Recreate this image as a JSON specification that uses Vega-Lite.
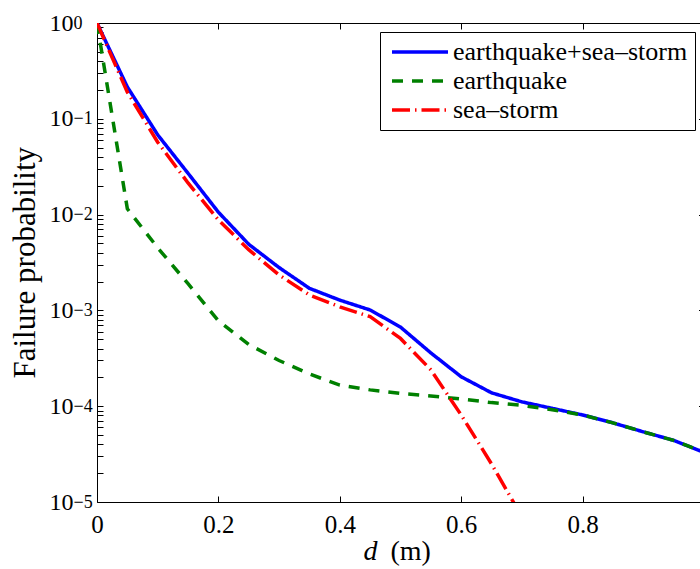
{
  "$schema": "https://vega.github.io/schema/vega-lite/v6.json",
  "width": 603,
  "height": 479,
  "autosize": {"type": "none"},
  "padding": {"left": 97, "top": 23, "right": 0, "bottom": 67},
  "background": "white",
  "config": {
    "view": {"stroke": null},
    "font": "Liberation Serif",
    "axis": {"grid": false, "domainColor": "black", "tickColor": "black", "labelColor": "black", "titleColor": "black", "labelFont": "Liberation Serif", "titleFont": "Liberation Serif", "titleFontWeight": "normal", "labelFlush": false, "labelOverlap": false},
    "legend": {"labelFont": "Liberation Serif"},
    "text": {"font": "Liberation Serif"}
  },
  "data": {
    "values": [
      {"d": 0, "p": 1, "s": "earthquake+sea–storm"},
      {"d": 0.05, "p": 0.215, "s": "earthquake+sea–storm"},
      {"d": 0.1, "p": 0.068, "s": "earthquake+sea–storm"},
      {"d": 0.15, "p": 0.027, "s": "earthquake+sea–storm"},
      {"d": 0.2, "p": 0.0106, "s": "earthquake+sea–storm"},
      {"d": 0.25, "p": 0.0049, "s": "earthquake+sea–storm"},
      {"d": 0.3, "p": 0.0028, "s": "earthquake+sea–storm"},
      {"d": 0.35, "p": 0.0017, "s": "earthquake+sea–storm"},
      {"d": 0.4, "p": 0.00128, "s": "earthquake+sea–storm"},
      {"d": 0.45, "p": 0.00101, "s": "earthquake+sea–storm"},
      {"d": 0.5, "p": 0.00067, "s": "earthquake+sea–storm"},
      {"d": 0.55, "p": 0.00036, "s": "earthquake+sea–storm"},
      {"d": 0.6, "p": 0.000203, "s": "earthquake+sea–storm"},
      {"d": 0.65, "p": 0.000138, "s": "earthquake+sea–storm"},
      {"d": 0.7, "p": 0.000111, "s": "earthquake+sea–storm"},
      {"d": 0.75, "p": 0.000095, "s": "earthquake+sea–storm"},
      {"d": 0.8, "p": 0.000081, "s": "earthquake+sea–storm"},
      {"d": 0.85, "p": 0.000067, "s": "earthquake+sea–storm"},
      {"d": 0.9, "p": 0.000054, "s": "earthquake+sea–storm"},
      {"d": 0.95, "p": 0.000044, "s": "earthquake+sea–storm"},
      {"d": 1.0, "p": 0.000033, "s": "earthquake+sea–storm"},
      {"d": 0, "p": 1, "s": "earthquake"},
      {"d": 0.05, "p": 0.0115, "s": "earthquake"},
      {"d": 0.1, "p": 0.0045, "s": "earthquake"},
      {"d": 0.15, "p": 0.0019, "s": "earthquake"},
      {"d": 0.2, "p": 0.00078, "s": "earthquake"},
      {"d": 0.25, "p": 0.00044, "s": "earthquake"},
      {"d": 0.3, "p": 0.0003, "s": "earthquake"},
      {"d": 0.35, "p": 0.000217, "s": "earthquake"},
      {"d": 0.4, "p": 0.000166, "s": "earthquake"},
      {"d": 0.45, "p": 0.000148, "s": "earthquake"},
      {"d": 0.5, "p": 0.000136, "s": "earthquake"},
      {"d": 0.55, "p": 0.000128, "s": "earthquake"},
      {"d": 0.6, "p": 0.000119, "s": "earthquake"},
      {"d": 0.65, "p": 0.000109, "s": "earthquake"},
      {"d": 0.7, "p": 0.000102, "s": "earthquake"},
      {"d": 0.75, "p": 0.000092, "s": "earthquake"},
      {"d": 0.8, "p": 0.000081, "s": "earthquake"},
      {"d": 0.85, "p": 0.000067, "s": "earthquake"},
      {"d": 0.9, "p": 0.000054, "s": "earthquake"},
      {"d": 0.95, "p": 0.000044, "s": "earthquake"},
      {"d": 1.0, "p": 0.000033, "s": "earthquake"},
      {"d": 0, "p": 1, "s": "sea–storm"},
      {"d": 0.05, "p": 0.19, "s": "sea–storm"},
      {"d": 0.1, "p": 0.057, "s": "sea–storm"},
      {"d": 0.15, "p": 0.0214, "s": "sea–storm"},
      {"d": 0.2, "p": 0.0088, "s": "sea–storm"},
      {"d": 0.25, "p": 0.0043, "s": "sea–storm"},
      {"d": 0.3, "p": 0.00234, "s": "sea–storm"},
      {"d": 0.35, "p": 0.00145, "s": "sea–storm"},
      {"d": 0.4, "p": 0.00109, "s": "sea–storm"},
      {"d": 0.45, "p": 0.00086, "s": "sea–storm"},
      {"d": 0.5, "p": 0.00051, "s": "sea–storm"},
      {"d": 0.55, "p": 0.00024, "s": "sea–storm"},
      {"d": 0.6, "p": 0.000081, "s": "sea–storm"},
      {"d": 0.65, "p": 0.000025, "s": "sea–storm"},
      {"d": 0.7, "p": 0.000007, "s": "sea–storm"}
    ]
  },
  "layer": [
    {
      "mark": {"type": "line", "clip": true, "strokeWidth": 3.5},
      "encoding": {
        "x": {
          "field": "d", "type": "quantitative",
          "scale": {"domain": [0, 0.9935], "nice": false, "zero": false},
          "axis": {
            "orient": "bottom", "values": [0, 0.2, 0.4, 0.6, 0.8],
            "labelExpr": "datum.value == 0 ? '0' : format(datum.value, '.1f')",
            "labelFont": "Liberation Serif", "labelFontSize": 25, "labelPadding": 10, "ticks": false,
            "title": "d", "titleFont": "Liberation Serif", "titleFontStyle": "italic", "titleFontSize": 28,
            "titleX": 266, "titleY": 57, "titleAlign": "left", "titleBaseline": "alphabetic"
          }
        },
        "y": {
          "field": "p", "type": "quantitative",
          "scale": {"type": "log", "domain": [0.00001, 1], "nice": false},
          "axis": {
            "orient": "left",
            "values": [0.00001, 0.0001, 0.001, 0.01, 0.1, 1],
            "labelExpr": "'10'",
            "labelFont": "Liberation Serif", "labelFontSize": 24, "labelPadding": 24, "labelDy": 5, "ticks": false,
            "title": "Failure probability", "titleFont": "Liberation Serif", "titleFontSize": 31, "titleAngle": -90,
            "titleX": -63, "titleY": 355, "titleAlign": "left", "titleBaseline": "alphabetic"
          }
        },
        "color": {
          "field": "s", "type": "nominal",
          "scale": {"domain": ["earthquake+sea–storm", "earthquake", "sea–storm"], "range": ["#0000ff", "#008000", "#ff0000"]},
          "legend": {
            "title": null, "orient": "none", "legendX": 283, "legendY": 9,
            "padding": 7, "rowPadding": 3, "fillColor": "white", "strokeColor": "black", "cornerRadius": 0,
            "labelFont": "Liberation Serif", "labelFontSize": 26, "labelLimit": 500, "labelColor": "black",
            "symbolType": "M-28,0H28", "symbolSize": 4, "symbolStrokeWidth": 3.5, "symbolOffset": 20, "labelOffset": 20
          }
        },
        "strokeDash": {
          "field": "s", "type": "nominal",
          "scale": {"domain": ["earthquake+sea–storm", "earthquake", "sea–storm"], "range": [[1, 0], [11, 9], [18, 5, 1.5, 5]]},
          "legend": {
            "title": null, "orient": "none", "legendX": 283, "legendY": 9,
            "padding": 7, "rowPadding": 3, "fillColor": "white", "strokeColor": "black", "cornerRadius": 0,
            "labelFont": "Liberation Serif", "labelFontSize": 26, "labelLimit": 500, "labelColor": "black",
            "symbolType": "M-28,0H28", "symbolSize": 4, "symbolStrokeWidth": 3.5, "symbolOffset": 20, "labelOffset": 20
          }
        }
      }
    },
    {
      "mark": {"type": "point", "opacity": 0, "size": 0},
      "encoding": {
        "x": {
          "field": "d", "type": "quantitative",
          "axis": {
            "orient": "top", "values": [0, 0.2, 0.4, 0.6, 0.8], "labels": false, "tickSize": -6, "title": null
          }
        },
        "y": {
          "field": "p", "type": "quantitative",
          "axis": {
            "orient": "left", "values": [0.00001, 0.0001, 0.001, 0.01, 0.1, 1],
            "labelExpr": "datum.value >= 0.99 ? '0' : '−' + format(round(-log(datum.value)/LN10), 'd')",
            "ticks": false, "domain": false, "labelAlign": "left", "labelPadding": 24,
            "labelFont": "Liberation Serif", "labelFontSize": 18, "labelDy": -10, "title": null
          }
        }
      }
    },
    {
      "mark": {"type": "point", "opacity": 0, "size": 0},
      "encoding": {
        "x": {
          "field": "d", "type": "quantitative",
          "axis": {
            "orient": "bottom", "labels": false, "ticks": false, "domain": false,
            "title": "(m)", "titleFont": "Liberation Serif", "titleFontSize": 28, "titleX": 293, "titleY": 57,
            "titleAlign": "left", "titleBaseline": "alphabetic"
          }
        },
        "y": {
          "field": "p", "type": "quantitative",
          "axis": {
            "orient": "right", "offset": 4.5, "values": [0.00001, 0.0001, 0.001, 0.01, 0.1, 1],
            "labels": false, "domain": true, "tickSize": -6, "title": null
          }
        }
      }
    },
    {
      "mark": {"type": "point", "opacity": 0, "size": 0},
      "encoding": {
        "x": {
          "field": "d", "type": "quantitative",
          "axis": {
            "orient": "bottom", "values": [0, 0.2, 0.4, 0.6, 0.8], "labels": false, "domain": false,
            "tickSize": -6, "title": null
          }
        },
        "y": {
          "field": "p", "type": "quantitative",
          "axis": {
            "orient": "left",
            "values": [0.00001, 0.00002, 0.00003, 0.00004, 0.00005, 0.00006, 0.00007, 0.00008, 0.00009,
                       0.0001, 0.0002, 0.0003, 0.0004, 0.0005, 0.0006, 0.0007, 0.0008, 0.0009,
                       0.001, 0.002, 0.003, 0.004, 0.005, 0.006, 0.007, 0.008, 0.009,
                       0.01, 0.02, 0.03, 0.04, 0.05, 0.06, 0.07, 0.08, 0.09,
                       0.1, 0.2, 0.3, 0.4, 0.5, 0.6, 0.7, 0.8, 0.9, 1],
            "labels": false, "domain": false, "tickSize": -6,
            "encode": {"ticks": {"update": {"x2": {"signal": "abs(log(datum.value)/LN10 - round(log(datum.value)/LN10)) < 0.001 ? 6 : 3"}}}},
            "title": null
          }
        }
      }
    }
  ],
  "resolve": {"axis": {"x": "independent", "y": "independent"}}
}
